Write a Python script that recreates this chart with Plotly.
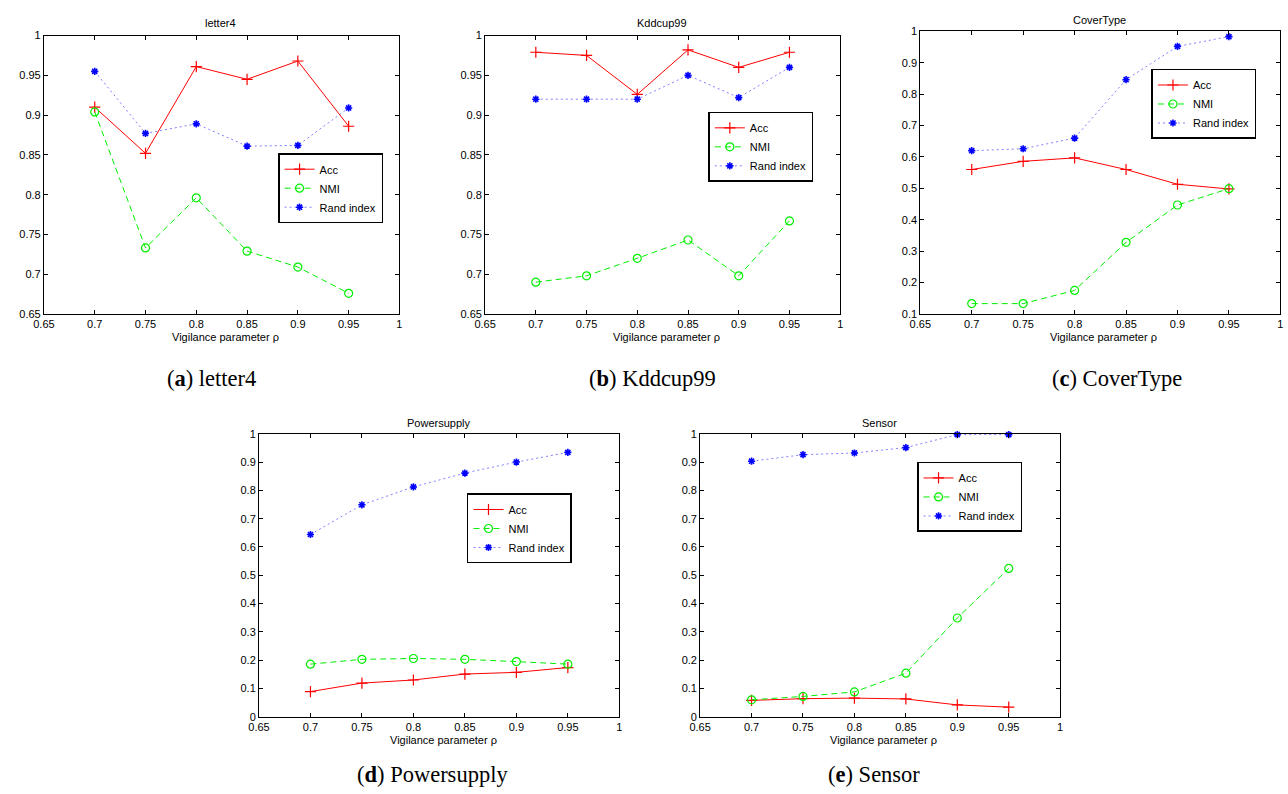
import plotly.graph_objects as go

W, H = 1288, 794

rho = [0.7, 0.75, 0.8, 0.85, 0.9, 0.95]

# letter4
letter4_acc = [0.910, 0.852, 0.961, 0.945, 0.968, 0.886]
letter4_nmi = [0.904, 0.733, 0.796, 0.729, 0.709, 0.676]
letter4_rand = [0.955, 0.877, 0.889, 0.861, 0.862, 0.909]
# Kddcup99
kdd_acc = [0.979, 0.975, 0.926, 0.982, 0.960, 0.979]
kdd_nmi = [0.690, 0.698, 0.720, 0.743, 0.698, 0.767]
kdd_rand = [0.920, 0.920, 0.920, 0.950, 0.922, 0.960]
# CoverType
cover_acc = [0.560, 0.586, 0.597, 0.560, 0.513, 0.498]
cover_nmi = [0.133, 0.133, 0.175, 0.328, 0.447, 0.499]
cover_rand = [0.620, 0.626, 0.660, 0.846, 0.952, 0.983]
# Powersupply
power_acc = [0.089, 0.119, 0.130, 0.151, 0.157, 0.174]
power_nmi = [0.186, 0.203, 0.206, 0.203, 0.195, 0.186]
power_rand = [0.644, 0.749, 0.812, 0.861, 0.900, 0.934]
# Sensor
sensor_acc = [0.058, 0.064, 0.066, 0.063, 0.042, 0.034]
sensor_nmi = [0.060, 0.072, 0.088, 0.154, 0.349, 0.524]
sensor_rand = [0.903, 0.926, 0.932, 0.951, 0.997, 0.997]

series_names = ["Acc", "NMI", "Rand index"]
titles = ["letter4", "Kddcup99", "CoverType", "Powersupply", "Sensor"]
caption_letters = ["a", "b", "c", "d", "e"]
x_label = "Vigilance parameter ρ"

x_tickvals = [0.65, 0.7, 0.75, 0.8, 0.85, 0.9, 0.95, 1.0]
x_ticktext = ["0.65", "0.7", "0.75", "0.8", "0.85", "0.9", "0.95", "1"]
y_tick_a = [0.65, 0.7, 0.75, 0.8, 0.85, 0.9, 0.95, 1.0]
y_text_a = ["0.65", "0.7", "0.75", "0.8", "0.85", "0.9", "0.95", "1"]
y_tick_c = [0.1, 0.2, 0.3, 0.4, 0.5, 0.6, 0.7, 0.8, 0.9, 1.0]
y_text_c = ["0.1", "0.2", "0.3", "0.4", "0.5", "0.6", "0.7", "0.8", "0.9", "1"]
y_tick_d = [0, 0.1, 0.2, 0.3, 0.4, 0.5, 0.6, 0.7, 0.8, 0.9, 1.0]
y_text_d = ["0", "0.1", "0.2", "0.3", "0.4", "0.5", "0.6", "0.7", "0.8", "0.9", "1"]

data = [
    (letter4_acc, letter4_nmi, letter4_rand),
    (kdd_acc, kdd_nmi, kdd_rand),
    (cover_acc, cover_nmi, cover_rand),
    (power_acc, power_nmi, power_rand),
    (sensor_acc, sensor_nmi, sensor_rand),
]
yticks = [(y_tick_a, y_text_a), (y_tick_a, y_text_a), (y_tick_c, y_text_c),
          (y_tick_d, y_text_d), (y_tick_d, y_text_d)]
yranges = [[0.65, 1], [0.65, 1], [0.1, 1], [0, 1], [0, 1]]

# layout in pixels: (left, right, top, bottom)
boxes = [(33.3, 392.7, 30, 312.7), (479.3, 838.3, 30, 312.7),
         (919.3, 1283.3, 25.7, 312.7), (250.7, 615, 434.3, 721.7),
         (696.7, 1060.7, 434.3, 721.7)]
# legend box (left, vertical centre)
legend_pos = [(270, 185), (705, 143), (1153, 99.5), (461, 530.5), (916, 498.5)]
title_pos = [(211.7, 17), (658, 17), (1100.7, 14), (432, 423), (878, 423)]
xlabel_pos = [(216.7, 336), (662.7, 336), (1105, 336), (437, 745), (882, 745)]
caption_pos = [(202.5, 378), (648.5, 378), (1118.5, 378), (426, 780), (872.5, 780)]

SANS = "Liberation Sans, Arial, sans-serif"
SERIF = "Liberation Serif, Times New Roman, serif"

fig = go.Figure()
annotations = []
layout = dict(
    width=W, height=H, margin=dict(l=0, r=0, t=0, b=0),
    paper_bgcolor="white", plot_bgcolor="white",
    font=dict(family=SANS, size=11, color="black"),
)

for i in range(5):
    n = "" if i == 0 else str(i + 1)
    xa, ya = "x" + n, "y" + n
    legname = "legend" + n
    acc, nmi, rnd = data[i]
    fig.add_trace(go.Scatter(
        x=rho, y=acc, name=series_names[0], xaxis=xa, yaxis=ya, legend=legname,
        mode="lines+markers", cliponaxis=False,
        line=dict(color="#ff0000", width=1),
        marker=dict(symbol="cross-thin", size=8, line=dict(color="#ff0000", width=1.2)),
    ))
    fig.add_trace(go.Scatter(
        x=rho, y=nmi, name=series_names[1], xaxis=xa, yaxis=ya, legend=legname,
        mode="lines+markers", cliponaxis=False,
        line=dict(color="#00ee00", width=1, dash="6px,4px"),
        marker=dict(symbol="circle-open", size=8, color="#00ee00", line=dict(color="#00ee00", width=1.2)),
    ))
    fig.add_trace(go.Scatter(
        x=rho, y=rnd, name=series_names[2], xaxis=xa, yaxis=ya, legend=legname,
        mode="lines+markers", cliponaxis=False,
        line=dict(color="#7f7fff", width=1, dash="2px,3px"),
        marker=dict(symbol="asterisk-open", size=6, color="#0000ff", line=dict(color="#0000ff", width=1.6)),
    ))
    l, r, t, b = boxes[i]
    axis_common = dict(showline=True, linecolor="black", linewidth=1, mirror="ticks",
                       ticks="inside", ticklen=4, tickcolor="black", tickwidth=1,
                       showgrid=False, zeroline=False, fixedrange=True,
                       tickfont=dict(family=SANS, size=11, color="black"))
    layout["xaxis" + n] = dict(axis_common, domain=[l / W, r / W], anchor=ya,
                               range=[0.65, 1.0], tickvals=x_tickvals, ticktext=x_ticktext)
    layout["yaxis" + n] = dict(axis_common, domain=[1 - b / H, 1 - t / H], anchor=xa,
                               range=yranges[i], tickvals=yticks[i][0], ticktext=yticks[i][1])
    lx, ly = legend_pos[i]
    layout[legname] = dict(x=lx / W, y=1 - ly / H, xanchor="left", yanchor="middle",
                           xref="paper", yref="paper",
                           bgcolor="white", bordercolor="black", borderwidth=1.5,
                           font=dict(family=SANS, size=11, color="black"),
                           tracegroupgap=0, itemwidth=30)
    tx, ty = title_pos[i]
    annotations.append(dict(text=titles[i], x=tx / W, y=1 - ty / H, xref="paper", yref="paper",
                            showarrow=False, xanchor="center", yanchor="middle",
                            font=dict(family=SANS, size=11, color="black")))
    ax_, ay_ = xlabel_pos[i]
    annotations.append(dict(text=x_label, x=ax_ / W, y=1 - ay_ / H, xref="paper", yref="paper",
                            showarrow=False, xanchor="center", yanchor="middle",
                            font=dict(family=SANS, size=11, color="black")))
    cx, cy = caption_pos[i]
    annotations.append(dict(text="(<b>" + caption_letters[i] + "</b>) " + titles[i],
                            x=cx / W, y=1 - cy / H, xref="paper", yref="paper",
                            showarrow=False, xanchor="center", yanchor="middle",
                            font=dict(family=SERIF, size=22.5, color="black")))

layout["annotations"] = annotations
fig.update_layout(**layout)
fig.write_html("out.html", post_script="document.body.style.margin='0';document.body.style.overflow='hidden';")
